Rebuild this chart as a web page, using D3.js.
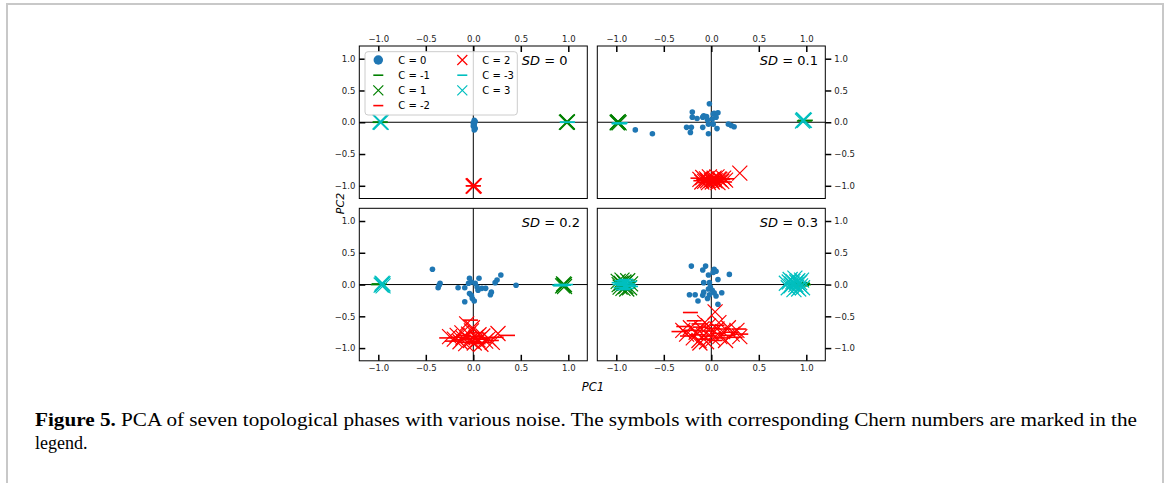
<!DOCTYPE html>
<html>
<head>
<meta charset="utf-8">
<script src="https://cdn.jsdelivr.net/npm/d3@7"></script>
<style>
  body { margin: 0; background: #fff; }
  svg { display: block; }
</style>
</head>
<body>
<svg id="chart" width="1168" height="483"></svg>
<script>
// panel titles (noise level) and class labels
const noiseLevels = ["0", "0.1", "0.2", "0.3"];
const classLabels = ["0", "-1", "1", "-2", "2", "-3", "3"];
const tickValues = [-1.0, -0.5, 0.0, 0.5, 1.0];

// SD = 0
const sd0_c0 = [[0.01,0.03],[0.02,0.01],[0.0,-0.01],[0.01,-0.04],[0.0,-0.06],[0.01,-0.08],[0.02,-0.1],[0.01,-0.12]];
const sd0_cm1 = [[-0.98,0.0],[-0.98,0.0]];
const sd0_c1 = [[0.99,0.0],[0.99,0.01],[0.98,0.0]];
const sd0_cm2 = [[0.0,-1.0],[0.0,-1.0]];
const sd0_c2 = [[0.0,-1.0],[0.0,-1.01],[0.01,-1.0]];
const sd0_cm3 = [[0.99,0.0],[0.99,0.0]];
const sd0_c3 = [[-0.98,0.0],[-0.98,0.01],[-0.97,0.0]];

// SD = 0.1
const sd1_c0 = [[-0.80,-0.12],[-0.62,-0.18],[-0.26,-0.08],[-0.21,-0.08],[-0.22,-0.16],[-0.20,0.16],[-0.20,0.08],[-0.15,0.06],
  [-0.09,0.08],[-0.08,0.10],[-0.05,0.09],[-0.09,-0.08],[-0.03,-0.03],[-0.03,-0.18],[-0.02,0.29],[0.02,0.13],[0.01,0.05],
  [0.03,0.14],[0.07,0.15],[0.06,-0.10],[0.02,-0.03],[0.05,0.08],[0.18,-0.03],[0.21,-0.05],[0.24,-0.07],[-0.04,0.04]];
const sd1_cm1 = [[0.99,0.03],[0.98,0.02]];
const sd1_c1 = [[-0.99,0.0],[-0.98,0.01],[-0.99,-0.01],[-0.98,0.0],[-0.97,-0.01]];
const sd1_cm2 = [[-0.14,-0.88],[-0.11,-0.92],[-0.08,-0.90],[-0.06,-0.95],[-0.03,-0.87],[-0.01,-0.93],[0.01,-0.89],[0.03,-0.95],
  [0.05,-0.91],[0.07,-0.88],[0.09,-0.93],[0.12,-0.90],[0.14,-0.94],[0.16,-0.89],[-0.05,-0.91],[0.04,-0.86]];
const sd1_c2 = [[-0.12,-0.90],[-0.09,-0.87],[-0.07,-0.93],[-0.05,-0.89],[-0.03,-0.95],[-0.02,-0.86],[0.0,-0.91],[0.01,-0.94],
  [0.03,-0.88],[0.04,-0.92],[0.06,-0.86],[0.07,-0.95],[0.09,-0.90],[0.11,-0.93],[0.13,-0.88],[0.15,-0.91],[-0.10,-0.94],
  [-0.04,-0.92],[0.02,-0.90],[0.08,-0.89],[0.30,-0.80]];
const sd1_cm3 = [[-0.97,-0.02],[-0.96,-0.01],[-0.97,-0.02]];
const sd1_c3 = [[0.97,0.03],[0.96,0.02],[0.97,0.04],[0.98,0.03]];

// SD = 0.2
const sd2_c0 = [[-0.43,0.24],[-0.35,0.02],[-0.37,-0.05],[-0.36,-0.01],[-0.16,-0.05],[-0.09,-0.05],[-0.09,-0.27],[-0.04,0.10],
  [-0.02,0.04],[0.02,0.02],[0.06,0.10],[-0.04,-0.14],[-0.02,-0.17],[0.01,-0.26],[-0.01,-0.22],[0.05,-0.09],[0.09,-0.06],
  [0.13,-0.06],[0.18,-0.16],[0.19,-0.12],[0.23,0.03],[0.25,0.07],[0.29,0.15],[0.45,-0.01],[-0.05,0.02],[0.04,-0.04]];
const sd2_cm1 = [[-1.0,0.0],[-0.99,0.01]];
const sd2_c1 = [[0.95,-0.01],[0.96,0.0],[0.94,-0.02],[0.96,-0.03],[0.95,0.01]];
const sd2_cm2 = [[-0.28,-0.84],[-0.22,-0.89],[-0.18,-0.83],[-0.13,-0.87],[-0.09,-0.91],[-0.05,-0.85],[-0.03,-0.56],[0.0,-0.90],
  [0.02,-0.82],[0.05,-0.93],[0.08,-0.86],[0.11,-0.91],[0.15,-0.84],[0.19,-0.88],[0.24,-0.83],[0.36,-0.80],[-0.10,-0.80],[0.03,-0.76]];
const sd2_c2 = [[-0.25,-0.82],[-0.20,-0.86],[-0.17,-0.80],[-0.14,-0.90],[-0.11,-0.84],[-0.08,-0.93],[-0.07,-0.62],[-0.05,-0.78],
  [-0.03,-0.88],[-0.01,-0.68],[0.01,-0.92],[0.03,-0.83],[0.05,-0.87],[0.08,-0.94],[0.10,-0.81],[0.13,-0.89],[0.16,-0.85],
  [0.20,-0.91],[0.26,-0.77],[-0.02,-0.73],[0.06,-0.79],[-0.12,-0.76]];
const sd2_cm3 = [[0.91,-0.01],[0.93,0.0],[0.95,-0.01],[0.97,0.0],[0.92,-0.02]];
const sd2_c3 = [[-0.96,0.0],[-0.95,0.01],[-0.97,-0.01],[-0.96,0.02],[-0.95,-0.02]];

// SD = 0.3
const sd3_c0 = [[-0.21,0.29],[-0.06,0.29],[-0.09,0.23],[0.03,0.24],[0.05,0.21],[0.19,0.16],[-0.03,0.15],[0.02,0.19],[0.07,0.08],
  [-0.08,0.03],[-0.02,0.03],[-0.01,-0.04],[-0.03,-0.07],[-0.08,-0.12],[-0.09,-0.17],[-0.02,-0.16],[0.03,-0.13],[0.05,-0.18],
  [0.11,-0.13],[-0.17,-0.16],[-0.23,-0.16],[-0.14,-0.26],[-0.04,-0.22],[0.07,-0.31],[0.01,-0.09]];
const sd3_cm1 = [[0.97,0.0],[0.95,-0.02],[0.93,0.03],[0.96,0.02]];
const sd3_c1 = [[-0.98,0.05],[-0.96,-0.04],[-0.94,0.07],[-0.93,-0.06],[-0.91,0.02],[-0.90,-0.03],[-0.88,0.06],[-0.86,-0.05],
  [-0.85,0.01],[-0.97,0.0],[-0.92,0.04],[-0.89,-0.07],[-0.95,0.02]];
const sd3_cm2 = [[-0.34,-0.74],[-0.29,-0.66],[-0.25,-0.81],[-0.21,-0.72],[-0.18,-0.57],[-0.15,-0.79],[-0.11,-0.67],[-0.08,-0.86],
  [-0.05,-0.73],[-0.02,-0.81],[0.01,-0.69],[0.04,-0.88],[0.07,-0.77],[0.10,-0.84],[0.13,-0.70],[0.17,-0.80],[0.21,-0.75],
  [0.25,-0.83],[0.29,-0.70],[0.31,-0.78],[-0.13,-0.62],[0.06,-0.64],[-0.22,-0.44]];
const sd3_c2 = [[-0.30,-0.72],[-0.26,-0.78],[-0.22,-0.68],[-0.19,-0.84],[-0.16,-0.75],[-0.13,-0.88],[-0.10,-0.70],[-0.08,-0.80],
  [-0.05,-0.90],[-0.03,-0.65],[0.0,-0.76],[0.02,-0.85],[0.04,-0.43],[0.06,-0.70],[0.09,-0.82],[0.12,-0.74],[0.15,-0.88],
  [0.18,-0.68],[0.22,-0.78],[0.27,-0.72],[0.30,-0.82],[-0.07,-0.60],[0.08,-0.60],[-0.12,-0.92]];
const sd3_cm3 = [[-0.97,0.03],[-0.95,-0.05],[-0.94,0.06],[-0.92,-0.02],[-0.91,0.04],[-0.89,-0.06],[-0.88,0.01],[-0.86,0.05],
  [-0.85,-0.03],[-0.93,-0.08],[-0.96,0.0],[-0.90,0.08],[-0.87,-0.01],[-0.94,0.02]];
const sd3_c3 = [[0.79,0.02],[0.81,-0.05],[0.83,0.08],[0.84,-0.02],[0.86,0.05],[0.87,-0.08],[0.88,0.10],[0.89,0.0],[0.90,-0.04],
  [0.91,0.06],[0.92,-0.07],[0.93,0.03],[0.94,-0.02],[0.95,0.07],[0.96,-0.05],[0.85,0.01],[0.90,0.04],[0.82,0.04]];

const panelData = [
  [sd0_c0, sd0_cm1, sd0_c1, sd0_cm2, sd0_c2, sd0_cm3, sd0_c3],
  [sd1_c0, sd1_cm1, sd1_c1, sd1_cm2, sd1_c2, sd1_cm3, sd1_c3],
  [sd2_c0, sd2_cm1, sd2_c1, sd2_cm2, sd2_c2, sd2_cm3, sd2_c3],
  [sd3_c0, sd3_cm1, sd3_c1, sd3_cm2, sd3_c2, sd3_cm3, sd3_c3]
];

const colorOf = { "0": "#1f77b4", "-1": "#008000", "1": "#008000", "-2": "#ff0000", "2": "#ff0000", "-3": "#00bfbf", "3": "#00bfbf" };
const shapeOf = c => c === "0" ? "circle" : (c.startsWith("-") ? "dash" : "cross");

const svg = d3.select("#chart");
const tickFont = "DejaVu Sans, sans-serif";

// page frame
svg.append("path")
    .attr("d", "M7,490 V4 H1163 V490")
    .attr("fill", "none")
    .attr("stroke", "#c8c8c8")
    .attr("stroke-width", 2);

const panelW = 228, panelH = 152.5;
const panelX = [359.3, 597.3], panelY = [46, 208.3];

function drawMarker(g, shape, color, size) {
    if (shape === "circle") {
        g.append("circle").attr("r", size / 2).attr("fill", color);
    } else if (shape === "cross") {
        g.append("path")
            .attr("d", `M${-size/2},${-size/2}L${size/2},${size/2}M${-size/2},${size/2}L${size/2},${-size/2}`)
            .attr("stroke", color).attr("stroke-width", 1.2).attr("fill", "none");
    } else {
        g.append("path")
            .attr("d", `M${-size/2},0H${size/2}`)
            .attr("stroke", color).attr("stroke-width", 1.6).attr("fill", "none");
    }
}

noiseLevels.forEach((sd, p) => {
    const col = p % 2, row = Math.floor(p / 2);
    const x0 = panelX[col], y0 = panelY[row];
    const g = svg.append("g").attr("transform", `translate(${x0},${y0})`);

    const x = d3.scaleLinear().domain([-1.2, 1.2]).range([0, panelW]);
    const y = d3.scaleLinear().domain([-1.2, 1.2]).range([panelH, 0]);

    // zero lines
    g.append("line").attr("x1", x(0)).attr("x2", x(0)).attr("y1", 0).attr("y2", panelH)
        .attr("stroke", "#000").attr("stroke-width", 1);
    g.append("line").attr("x1", 0).attr("x2", panelW).attr("y1", y(0)).attr("y2", y(0))
        .attr("stroke", "#000").attr("stroke-width", 1);

    // points
    panelData[p].forEach((pts, k) => {
        const c = classLabels[k];
        const shape = shapeOf(c);
        pts.forEach(d => {
            const m = g.append("g").attr("transform", `translate(${x(d[0])},${y(d[1])})`);
            drawMarker(m, shape, colorOf[c], shape === "circle" ? 5.6 : 15);
        });
    });

    // frame
    g.append("rect").attr("width", panelW).attr("height", panelH)
        .attr("fill", "none").attr("stroke", "#000").attr("stroke-width", 1);

    const fmt = d3.format(".1f");
    // x axis
    const xAxis = (row === 0 ? d3.axisTop(x) : d3.axisBottom(x))
        .tickValues(tickValues).tickFormat(fmt).tickSize(-6).tickPadding(4);
    const gx = g.append("g").attr("transform", `translate(0,${row === 0 ? 0 : panelH})`).call(xAxis);
    // y axis
    const yAxis = (col === 0 ? d3.axisLeft(y).tickSize(-6).tickPadding(4) : d3.axisRight(y).tickSize(6).tickPadding(3))
        .tickValues(tickValues).tickFormat(fmt);
    const gy = g.append("g").attr("transform", `translate(${col === 0 ? 0 : panelW},0)`).call(yAxis);

    [gx, gy].forEach(a => {
        a.select(".domain").remove();
        a.selectAll(".tick line").attr("stroke", "#000").attr("stroke-width", 1.5);
        a.selectAll(".tick text").attr("fill", "#222").style("font-family", tickFont).style("font-size", "8.5px");
    });

    // SD label
    const t = g.append("text").attr("x", 162.5).attr("y", 19)
        .style("font-family", tickFont).style("font-size", "13px").attr("fill", "#000");
    t.append("tspan").style("font-style", "italic").text("SD");
    t.append("tspan").text(" = " + sd);
});

// legend in first panel
const leg = svg.append("g").attr("transform", "translate(365,51.7)");
leg.append("rect").attr("width", 152.3).attr("height", 63.3).attr("rx", 3)
    .attr("fill", "#fff").attr("fill-opacity", 0.8).attr("stroke", "#cccccc").attr("stroke-width", 1);
classLabels.forEach((c, i) => {
    const colIdx = i < 4 ? 0 : 1, rowIdx = i < 4 ? i : i - 4;
    const mx = colIdx === 0 ? 13.3 : 97.3;
    const my = 8.3 + rowIdx * 15.2;
    const m = leg.append("g").attr("transform", `translate(${mx},${my})`);
    drawMarker(m, shapeOf(c), colorOf[c], shapeOf(c) === "circle" ? 9.5 : 10);
    leg.append("text").attr("x", mx + 20).attr("y", my + 3.6)
        .style("font-family", tickFont).style("font-size", "10px").attr("fill", "#000")
        .text("C = " + c);
});

// axis titles
svg.append("text").attr("x", 593).attr("y", 391).attr("text-anchor", "middle")
    .style("font-family", tickFont).style("font-size", "11.5px").style("font-style", "italic").text("PC1");
svg.append("text").attr("transform", "translate(344,203.5) rotate(-90)").attr("text-anchor", "middle")
    .style("font-family", tickFont).style("font-size", "11px").style("font-style", "italic").text("PC2");

// caption
const cap = svg.append("text").attr("x", 35).attr("y", 426)
    .style("font-family", "Liberation Serif, serif").style("font-size", "18px").attr("fill", "#000")
    .attr("textLength", 1102).attr("lengthAdjust", "spacingAndGlyphs");
cap.append("tspan").style("font-weight", "bold").text("Figure 5.");
cap.append("tspan").text(" PCA of seven topological phases with various noise. The symbols with corresponding Chern numbers are marked in the");
svg.append("text").attr("x", 35).attr("y", 449)
    .style("font-family", "Liberation Serif, serif").style("font-size", "18px").attr("fill", "#000")
    .text("legend.");
</script>
</body>
</html>
